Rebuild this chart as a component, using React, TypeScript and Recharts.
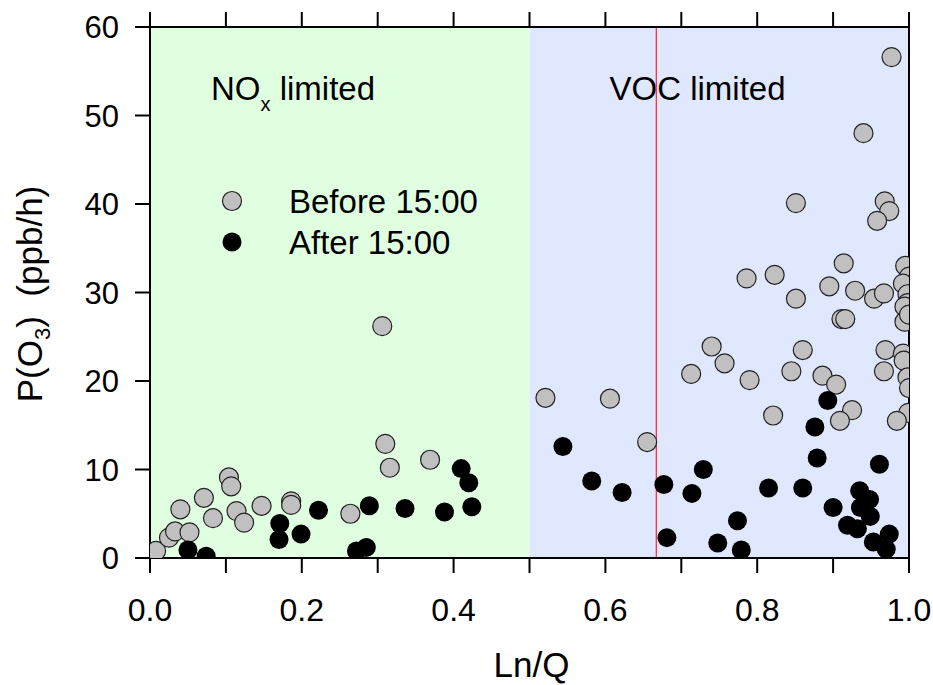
import React from 'react';
import {
  ScatterChart,
  Scatter,
  XAxis,
  YAxis,
  ReferenceArea,
  ReferenceLine,
  Legend,
} from 'recharts';

// Ln/Q and P(O3)
const beforeLnQ = [
  0.0, 0.008, 0.025, 0.033, 0.052, 0.04, 0.071, 0.083, 0.104, 0.107, 0.114, 0.124, 0.147, 0.186, 0.186,
  0.264, 0.306, 0.31, 0.316, 0.369, 0.521, 0.606, 0.655, 0.713, 0.74, 0.757, 0.79, 0.821, 0.845, 0.86,
  0.886, 0.904, 0.925, 0.909, 0.969, 0.992, 0.993, 0.967, 0.998, 1.0, 0.999, 0.984, 0.977, 0.94, 0.851,
  0.968, 0.974, 0.958, 0.914, 0.995, 1.0, 0.786, 0.823, 0.895, 0.929, 0.851, 0.954, 0.967, 0.992, 0.998,
  0.998, 0.994, 0.911, 0.916, 0.994, 1.0,
];
const beforePO3 = [
  0.6, 0.8, 2.3, 3.0, 2.9, 5.5, 6.8, 4.5, 9.1, 8.1, 5.3, 4.0, 5.9, 6.4, 6.0,
  5.0, 26.2, 12.9, 10.2, 11.1, 18.1, 18.0, 13.1, 20.8, 23.9, 22.0, 20.1, 16.1, 21.1, 23.5,
  20.6, 19.6, 16.7, 15.5, 23.5, 23.1, 22.3, 21.1, 20.4, 19.2, 16.4, 15.5, 56.6, 48.0, 40.1,
  40.3, 39.2, 38.1, 33.3, 33.0, 31.8, 31.6, 32.0, 30.7, 30.2, 29.3, 29.3, 29.9, 31.0, 29.8,
  28.8, 28.4, 27.0, 27.0, 26.7, 27.5,
];
const afterLnQ = [
  0.05, 0.074, 0.171, 0.17, 0.199, 0.222, 0.272, 0.285, 0.289, 0.336, 0.388, 0.41, 0.42, 0.424,
  0.544, 0.582, 0.622, 0.677, 0.681, 0.714, 0.729, 0.748, 0.774, 0.779, 0.815, 0.86, 0.876, 0.879,
  0.893, 0.9, 0.919, 0.932, 0.935, 0.936, 0.948, 0.949, 0.953, 0.961, 0.97, 0.974,
];
const afterPO3 = [
  0.9, 0.2, 3.9, 2.1, 2.7, 5.4, 0.8, 1.2, 5.9, 5.6, 5.2, 10.1, 8.5, 5.8,
  12.6, 8.7, 7.4, 8.3, 2.3, 7.3, 10.0, 1.7, 4.2, 0.9, 7.9, 7.9, 14.8, 11.3,
  17.8, 5.7, 3.7, 3.3, 7.6, 5.7, 6.6, 4.7, 1.8, 10.6, 1.0, 2.7,
];

const xTicks = [0, 0.1, 0.2, 0.3, 0.4, 0.5, 0.6, 0.7, 0.8, 0.9, 1.0];
const yTicks = [0, 10, 20, 30, 40, 50, 60];
const regimeSplit = 0.5;
const redLineAt = 0.667;

const before = beforeLnQ.map((x, i) => ({ x, y: beforePO3[i] }));
const after = afterLnQ.map((x, i) => ({ x, y: afterPO3[i] }));

const FONT = '"Liberation Sans", Arial, sans-serif';
const GRAY = '#c0c0c0';

const grayDot = (p: any) => (
  <circle cx={p.cx} cy={p.cy} r={9.5} fill={GRAY} stroke="#222" strokeWidth={1.2} />
);
const blackDot = (p: any) => <circle cx={p.cx} cy={p.cy} r={9.5} fill="#000" />;

const LegendBox = () => (
  <svg width={340} height={90} style={{ fontFamily: FONT, overflow: 'visible' }}>
    <circle cx={12} cy={16} r={9.5} fill={GRAY} stroke="#222" strokeWidth={1.2} />
    <text x={69} y={28} fontSize={33}>Before 15:00</text>
    <circle cx={12} cy={57} r={9.5} fill="#000" />
    <text x={69} y={69} fontSize={33}>After 15:00</text>
  </svg>
);

export default function App() {
  return (
    <div style={{ position: 'absolute', left: 0, top: 0, fontFamily: FONT }}>
      <ScatterChart width={933} height={685} margin={{ top: 12, right: 24, bottom: 0, left: 0 }}>
        <ReferenceArea
          xAxisId="b"
          x1={0}
          x2={regimeSplit}
          y1={0}
          y2={60}
          fill="#e0ffe0"
          fillOpacity={1}
          stroke="none"
          label={{
            content: ({ viewBox }: any) => (
              <text x={viewBox.x + 61} y={viewBox.y + 73} fontSize={33} fill="#000" fontFamily={FONT}>
                NO
                <tspan fontSize={20} dy={11}>x</tspan>
                <tspan dy={-11}> limited</tspan>
              </text>
            ),
          }}
        />
        <ReferenceArea
          xAxisId="b"
          x1={regimeSplit}
          x2={1}
          y1={0}
          y2={60}
          fill="#e0e8ff"
          fillOpacity={1}
          stroke="none"
          label={{
            content: ({ viewBox }: any) => (
              <text x={viewBox.x + 80} y={viewBox.y + 73} fontSize={33} fill="#000" fontFamily={FONT}>
                VOC limited
              </text>
            ),
          }}
        />
        <ReferenceLine xAxisId="b" x={redLineAt} stroke="#ff0000" strokeWidth={1} />
        <ReferenceLine xAxisId="b" x={1} stroke="#000" strokeWidth={2} />
        <XAxis
          xAxisId="b"
          type="number"
          dataKey="x"
          domain={[0, 1]}
          ticks={xTicks}
          allowDataOverflow
          height={127}
          tickSize={15}
          tickMargin={25}
          tickFormatter={(v: number) => (Math.round(v * 10) % 2 === 0 ? v.toFixed(1) : '')}
          tick={{ fill: '#000', fontSize: 32, fontFamily: FONT }}
          axisLine={{ stroke: '#000', strokeWidth: 2 }}
          tickLine={{ stroke: '#000', strokeWidth: 2 }}
          label={{
            content: ({ viewBox }: any) => (
              <text
                x={viewBox.x + viewBox.width / 2 + 2}
                y={viewBox.y + 119}
                textAnchor="middle"
                fontSize={35}
                fill="#000"
                fontFamily={FONT}
              >
                Ln/Q
              </text>
            ),
          }}
        />
        <XAxis
          xAxisId="t"
          orientation="top"
          type="number"
          dataKey="x"
          domain={[0, 1]}
          ticks={xTicks}
          allowDataOverflow
          height={15}
          tickSize={15}
          tickMargin={0}
          tickFormatter={() => ' '}
          tick={{ fontSize: 1, fill: 'none' }}
          axisLine={{ stroke: '#000', strokeWidth: 2 }}
          tickLine={{ stroke: '#000', strokeWidth: 2 }}
        />
        <YAxis
          type="number"
          dataKey="y"
          domain={[0, 60]}
          ticks={yTicks}
          allowDataOverflow
          width={150}
          tickSize={15}
          tickMargin={16}
          tick={{ fill: '#000', fontSize: 31, fontFamily: FONT }}
          axisLine={{ stroke: '#000', strokeWidth: 2 }}
          tickLine={{ stroke: '#000', strokeWidth: 2 }}
          label={{
            content: () => (
              <text
                transform="translate(42, 294) rotate(-90)"
                textAnchor="middle"
                fontSize={35}
                fill="#000"
                fontFamily={FONT}
                style={{ whiteSpace: 'pre' }}
              >
                P(O
                <tspan fontSize={22} dy={8}>3</tspan>
                <tspan dy={-8}>{')  (ppb/h)'}</tspan>
              </text>
            ),
          }}
        />
        <Legend
          layout="horizontal"
          verticalAlign="middle"
          align="center"
          wrapperStyle={{ left: 220, top: 185, width: 340, height: 90 }}
          content={() => <LegendBox />}
        />
        <Scatter name="Before 15:00" xAxisId="b" data={before} shape={grayDot} isAnimationActive={false} />
        <Scatter name="After 15:00" xAxisId="b" data={after} shape={blackDot} isAnimationActive={false} />
        {/* ties the top axis to the data so it gets a domain */}
        <Scatter xAxisId="t" data={before} shape={() => <g />} isAnimationActive={false} legendType="none" />
      </ScatterChart>
    </div>
  );
}
